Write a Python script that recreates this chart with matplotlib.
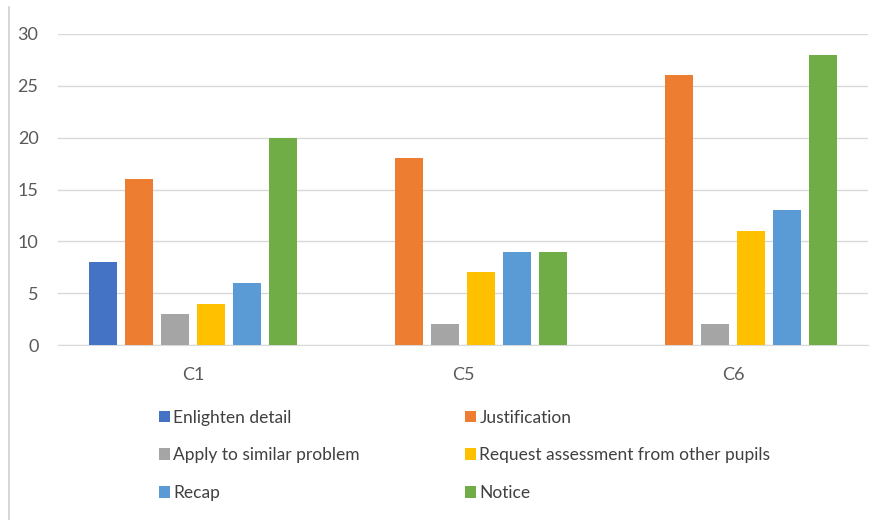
import matplotlib.pyplot as plt
import numpy as np
from matplotlib.lines import Line2D

# Data
categories = ['C1', 'C5', 'C6']
series = ['Enlighten detail', 'Justification', 'Apply to similar problem',
          'Request assessment from other pupils', 'Recap', 'Notice']
enlighten = [8, 0, 0]
justification = [16, 18, 26]
apply_similar = [3, 2, 2]
request_assessment = [4, 7, 11]
recap = [6, 9, 13]
notice = [20, 9, 28]
colors = ['#4472C4', '#ED7D31', '#A5A5A5', '#FFC000', '#5B9BD5', '#70AD47']

plt.rcParams['font.family'] = ['Lato', 'DejaVu Sans']

values = [enlighten, justification, apply_similar, request_assessment, recap, notice]
x = np.arange(len(categories))
slot = 36 / 270
width = 28 / 270

fig = plt.figure(figsize=(8.8, 5.2), dpi=100)
ax = fig.add_axes([58 / 880, 1 - 345 / 520, 810 / 880, 311 / 520])

bars = []
for j, (vals, col) in enumerate(zip(values, colors)):
    b = ax.bar(x + (j - 2.5) * slot, vals, width, color=col, label=series[j], zorder=3)
    bars.append(b)

ax.set_xlim(-0.5, 2.5)
ax.set_ylim(0, 30)
ax.set_yticks([0, 5, 10, 15, 20, 25, 30])
ax.set_xticks(x)
ax.set_xticklabels(categories)
ax.grid(axis='y', color='#D9D9D9', linewidth=1, zorder=0)
for s in ['top', 'right', 'left']:
    ax.spines[s].set_visible(False)
ax.spines['bottom'].set_color('#D9D9D9')
ax.tick_params(axis='both', length=0, colors='#595959', labelsize=13)
ax.tick_params(axis='y', pad=14)
ax.tick_params(axis='x', pad=16)

# legend in two columns
leg_kw = dict(frameon=False, fontsize=12.5, labelcolor='#404040', handlelength=0.65,
              handleheight=0.65, handletextpad=0.2, labelspacing=1.25, borderpad=0)
fig.legend([bars[0], bars[2], bars[4]], [series[0], series[2], series[4]],
           loc='upper left', bbox_to_anchor=(150 / 880, 1 - 401 / 520), **leg_kw)
fig.legend([bars[1], bars[3], bars[5]], [series[1], series[3], series[5]],
           loc='upper left', bbox_to_anchor=(456 / 880, 1 - 401 / 520), **leg_kw)

# left border of the chart frame
fig.add_artist(Line2D([9 / 880, 9 / 880], [0, 1 - 7 / 520], color='#D0D0D0', linewidth=1.2))

fig.savefig('out.png', dpi=100)
